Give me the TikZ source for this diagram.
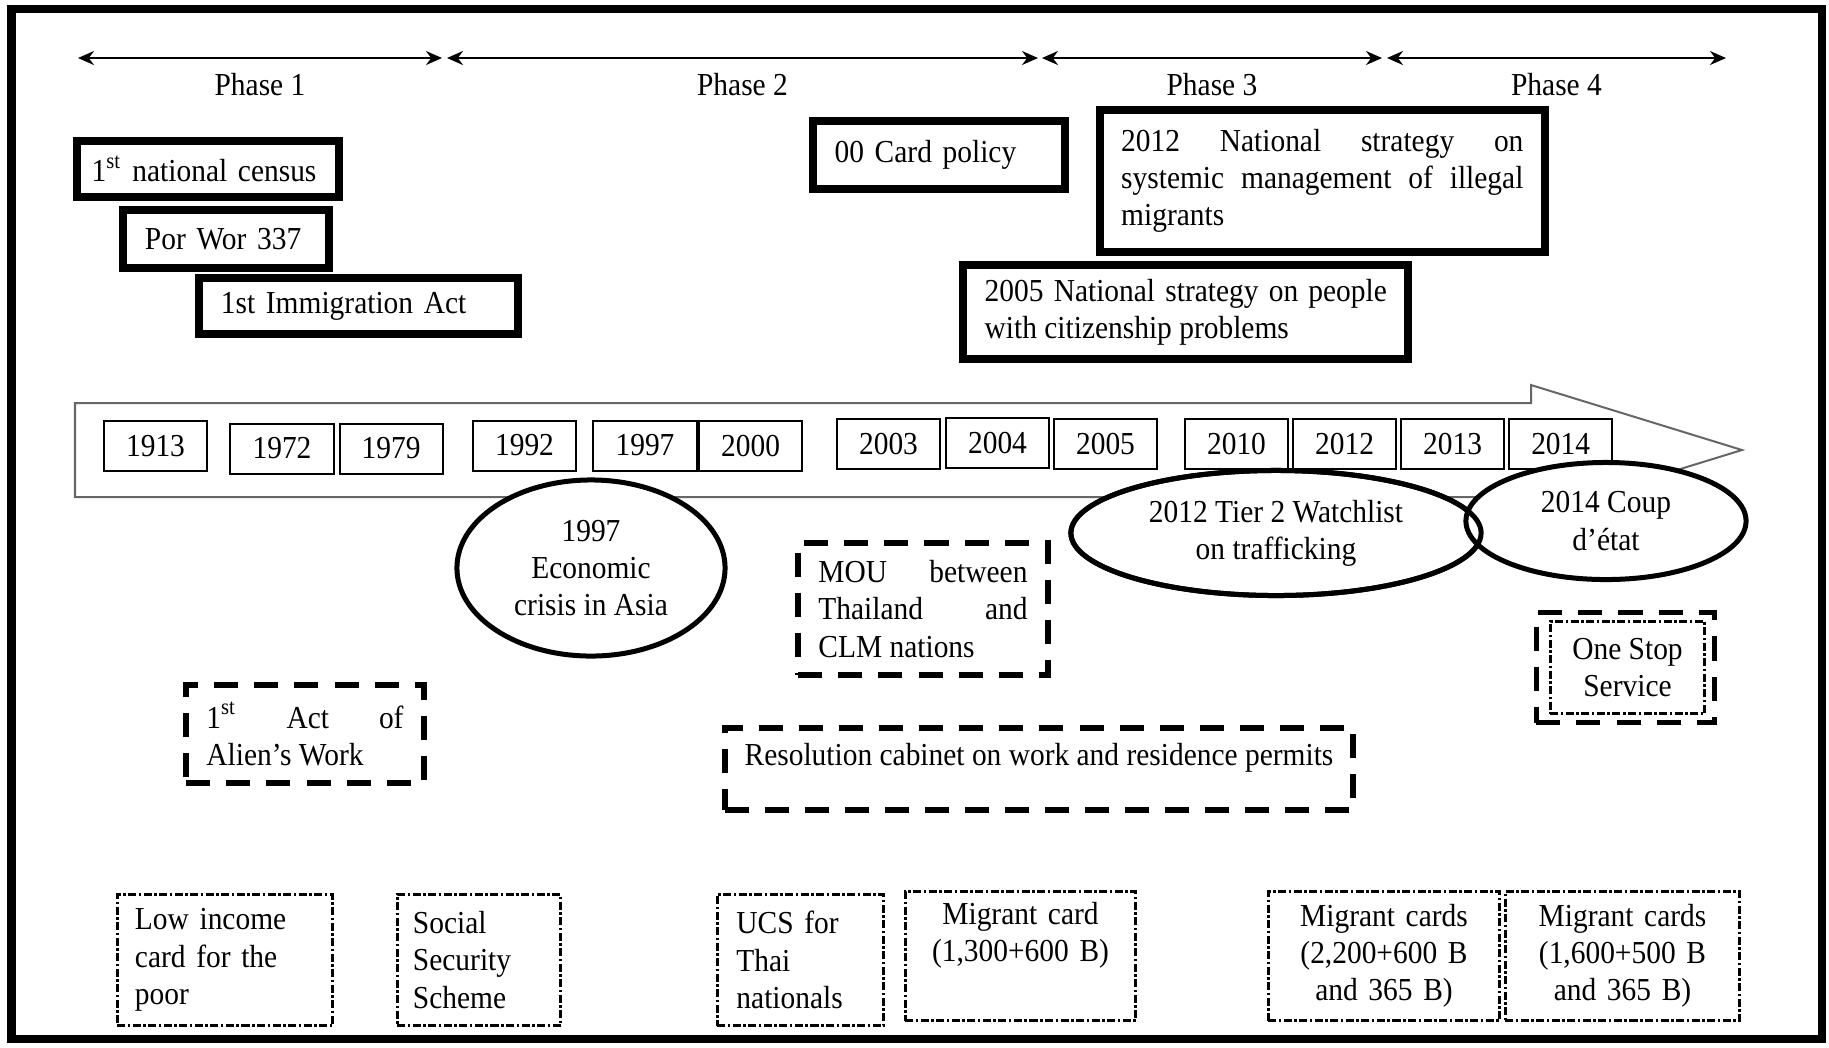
\documentclass[tikz,border=0pt]{standalone}
\usepackage{fontspec}
\setmainfont{Liberation Serif}[FakeStretch=0.92]
\usepackage{tikz}
\usetikzlibrary{shapes.geometric, arrows.meta, positioning}
\tikzstyle{phasearrow} = [line width=0.02cm, {Stealth[length=0.16cm,width=0.14cm]}-{Stealth[length=0.16cm,width=0.14cm]}]
\tikzstyle{bigbox} = [rectangle, draw, line width=0.08cm, align=left, inner xsep=0.22cm, inner ysep=0pt]
\tikzstyle{yearbox} = [rectangle, draw, line width=0.02cm, fill=white, minimum width=1.03cm, minimum height=0.50cm, inner sep=0pt]
\tikzstyle{oval} = [ellipse, draw, line width=0.05cm, fill=white, inner sep=0pt]
\tikzstyle{dashbox} = [rectangle, draw, line width=0.06cm, dash pattern=on 0.24cm off 0.16cm, inner xsep=0.2cm, inner ysep=0pt]
\tikzstyle{dotbox} = [rectangle, draw, line width=0.03cm, dash pattern=on 0.08cm off 0.025cm on 0.025cm off 0.025cm, inner xsep=0.17cm, inner ysep=0pt]
\tikzset{every node/.style={align=center}}

\begin{document}
\begin{tikzpicture}[x=0.01cm, y=-0.01cm, font=\fontsize{9.1pt}{10.6pt}\selectfont]
    \useasboundingbox (0,0) rectangle (1829,1047);
    \draw [line width=0.08cm] (11.5,9) rectangle (1822,1039);

    \coordinate (p0) at (78,58);
    \coordinate (p1a) at (442,58);
    \coordinate (p1b) at (447,58);
    \coordinate (p2a) at (1038,58);
    \coordinate (p2b) at (1042,58);
    \coordinate (p3a) at (1382,58);
    \coordinate (p3b) at (1387,58);
    \coordinate (p4) at (1726,58);
    \draw [phasearrow] (p0) -- node[below=0.03cm]{Phase 1} (p1a);
    \draw [phasearrow] (p1b) -- node[below=0.03cm]{Phase 2} (p2a);
    \draw [phasearrow] (p2b) -- node[below=0.03cm]{Phase 3} (p3a);
    \draw [phasearrow] (p3b) -- node[below=0.03cm]{Phase 4} (p4);

    \node (census) [bigbox, text width=2.32cm, inner xsep=0.15cm, minimum height=0.56cm] at (207.6,169) {1\textsuperscript{st} national census};
    \node (porwor) [bigbox, text width=1.62cm, minimum height=0.58cm] at (226,239) {Por Wor 337};
    \node (immig) [bigbox, text width=2.75cm, minimum height=0.56cm] at (358.5,306) {1st Immigration Act};
    \node (card) [bigbox, text width=2.08cm, minimum height=0.68cm] at (938.7,155) {00 Card policy};
    \node (strat12) [bigbox, align=justify, text width=4.02cm, inner xsep=0.215cm, minimum height=1.42cm] at (1322.3,181) {2012 National strategy on\linebreak systemic management of illegal\linebreak migrants};
    \node (strat05) [bigbox, align=justify, text width=4.02cm, inner xsep=0.215cm, minimum height=0.94cm] at (1185.8,312) {2005 National strategy on people\linebreak with citizenship problems};

    \draw [black!60, line width=0.02cm] (75,403) -- (1531,403) -- (1531,385) -- (1742,450) -- (1531,515) -- (1531,497) -- (75,497) -- cycle;

    \node (y1913) [yearbox] at (155.5,446) {1913};
    \node (y1972) [yearbox] at (282,448.5) {1972};
    \node (y1979) [yearbox, right of=y1972, node distance=1.09cm] {1979};
    \node (y1992) [yearbox] at (524.5,445.5) {1992};
    \node (y1997) [yearbox] at (645,445.5) {1997};
    \node (y2000) [yearbox, right of=y1997, node distance=1.055cm] {2000};
    \node (y2003) [yearbox] at (888.5,443.5) {2003};
    \node (y2004) [yearbox] at (997.5,442.5) {2004};
    \node (y2005) [yearbox] at (1105.5,443.5) {2005};
    \node (y2010) [yearbox] at (1236.5,443.5) {2010};
    \node (y2012) [yearbox, right of=y2010, node distance=1.08cm] {2012};
    \node (y2013) [yearbox, right of=y2012, node distance=1.08cm] {2013};
    \node (y2014) [yearbox, right of=y2013, node distance=1.08cm] {2014};

    \node (crisis) [oval, minimum width=2.68cm, minimum height=1.76cm] at (591,568) {1997\\Economic\\crisis in Asia};
    \node (tier) [oval, minimum width=4.10cm, minimum height=1.25cm] at (1276,533) {2012 Tier 2 Watchlist\\on trafficking};
    \node (coup) [oval, minimum width=2.80cm, minimum height=1.17cm] at (1606,521) {2014 Coup\\d'état};
    \draw [line width=0.05cm] (tier.center) ellipse (2.05cm and 0.625cm);

    \node (mou) [dashbox, align=justify, text width=2.09cm, minimum height=1.32cm] at (923,609) {MOU between\linebreak Thailand and\linebreak CLM nations};
    \node (alien) [dashbox, align=justify, text width=1.97cm, minimum height=0.98cm] at (305,734) {1\textsuperscript{st} Act of\linebreak Alien's Work};
    \node (resol) [dashbox, minimum width=6.28cm, inner ysep=0.1cm, text height=0.27cm, text depth=0.35cm] at (1039,769) {Resolution cabinet on work and residence permits};
    \node (osframe) [dashbox, line width=0.05cm, minimum width=1.78cm, minimum height=1.10cm] at (1625.5,667.5) {};
    \node (onestop) [dotbox, minimum width=1.54cm, minimum height=0.92cm] at (1627.5,667.5) {One Stop\\Service};

    \node (lowinc) [dotbox, align=left, text width=1.80cm, inner xsep=0.175cm, minimum height=1.31cm] at (225,960) {Low income\\card for the\\poor};
    \node (social) [dotbox, align=left, text width=1.32cm, inner xsep=0.155cm, minimum height=1.31cm] at (479,960) {Social\\Security\\Scheme};
    \node (ucs) [dotbox, align=left, text width=1.28cm, inner xsep=0.19cm, minimum height=1.31cm] at (800.5,960) {UCS for\\Thai\\nationals};
    \node (mig1) [dotbox, text width=1.96cm, minimum height=1.29cm] at (1020.5,956) {Migrant card\\(1,300+600 B)\\\strut};
    \node (mig2) [dotbox, text width=1.97cm, minimum height=1.29cm] at (1384,956) {Migrant cards\\(2,200+600 B\\and 365 B)};
    \node (mig3) [dotbox, text width=2.00cm, minimum height=1.29cm] at (1622.5,956) {Migrant cards\\(1,600+500 B\\and 365 B)};
\end{tikzpicture}
\end{document}
